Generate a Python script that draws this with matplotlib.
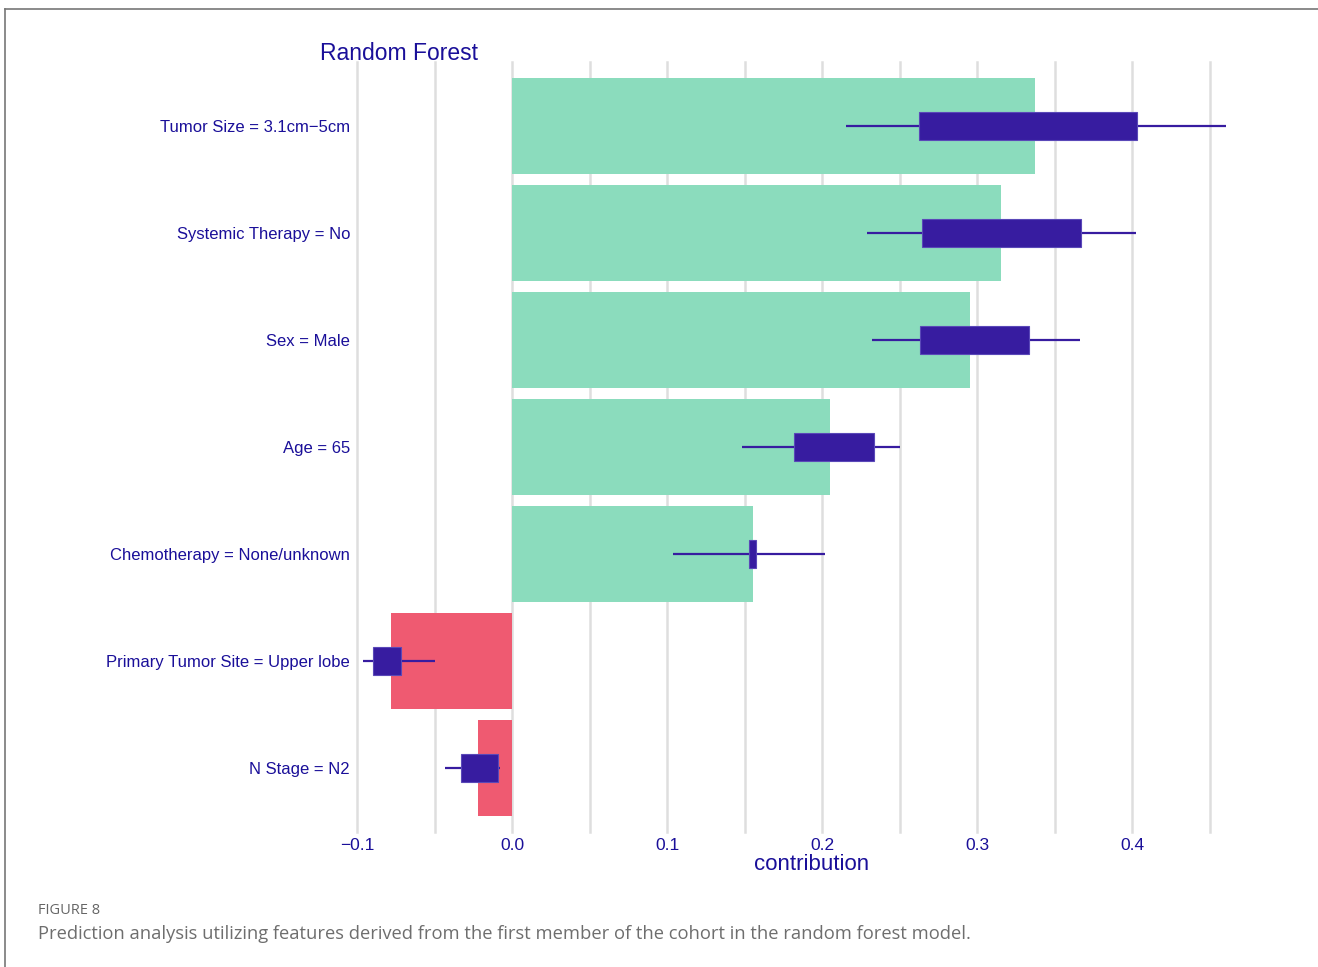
import numpy as np
import matplotlib.pyplot as plt
from matplotlib.lines import Line2D

# Data
features = ["Tumor Size = 3.1cm\u22125cm", "Systemic Therapy = No", "Sex = Male", "Age = 65",
            "Chemotherapy = None/unknown", "Primary Tumor Site = Upper lobe", "N Stage = N2"]
contribution = [0.337, 0.315, 0.295, 0.205, 0.1555, -0.078, -0.022]
whisker_lo = [0.2155, 0.229, 0.232, 0.148, 0.104, -0.096, -0.0432]
box_lo = [0.2626, 0.2645, 0.263, 0.182, 0.153, -0.0897, -0.0329]
box_hi = [0.4032, 0.367, 0.333, 0.2335, 0.157, -0.0716, -0.0090]
whisker_hi = [0.460, 0.402, 0.366, 0.250, 0.202, -0.0497, -0.0077]
xticks = [-0.1, 0.0, 0.1, 0.2, 0.3, 0.4]
gridpos = [-0.1, -0.05, 0.0, 0.05, 0.1, 0.15, 0.2, 0.25, 0.3, 0.35, 0.4, 0.45]

TXT = "#1a0f99"
GREEN = "#8bdcbd"
RED = "#ef5a71"
BOX = "#371ca0"

W, H = 1318, 967
fig = plt.figure(figsize=(W / 100, H / 100), dpi=100)
ax = fig.add_axes([357 / W, 1 - 832 / H, (1210 - 357) / W, (832 - 62) / H])

y = np.arange(len(features))
colors = [GREEN if c > 0 else RED for c in contribution]
ax.barh(y, contribution, height=0.9, color=colors, zorder=2)

ax.hlines(y, whisker_lo, whisker_hi, color=BOX, lw=1.6, zorder=3, clip_on=False)
ax.barh(y, np.array(box_hi) - np.array(box_lo), left=box_lo, height=0.26,
        color=BOX, edgecolor="#5a48b8", lw=0.8, zorder=4)

# vertical grid lines (drawn unclipped so the edge lines are full width)
for g in gridpos:
    ax.axvline(g, color="#dedede", lw=1.8, zorder=0, clip_on=False)

ax.set_xlim(-0.1, 0.45)
ax.set_ylim(len(features) - 0.4, -0.6)
ax.set_xticks(xticks)
ax.set_xticklabels([f"{t:.1f}".replace("-", "\u2212") for t in xticks])
ax.set_yticks(y)
ax.set_yticklabels(features)
ax.tick_params(axis="both", which="both", length=0, colors=TXT)
ax.tick_params(axis="y", pad=5, labelsize=12)
ax.tick_params(axis="x", pad=4, labelsize=12.5)
for lab in ax.get_xticklabels() + ax.get_yticklabels():
    lab.set_fontfamily("Liberation Sans")
for s in ax.spines.values():
    s.set_visible(False)

ax.set_xlabel("contribution", fontsize=16, color=TXT, fontfamily="Liberation Sans")
ax.xaxis.set_label_coords(0.533, -0.028)

fig.text(320 / W, 1 - 53 / H, "Random Forest", fontsize=16.5, color=TXT,
         fontfamily="Liberation Sans", va="center", ha="left")

# caption
fig.text(38 / W, 1 - 910 / H, "FIGURE 8", fontsize=10.5, color="#666666",
         fontfamily="Open Sans", va="center")
fig.text(38 / W, 1 - 934 / H,
         "Prediction analysis utilizing features derived from the first member of the cohort in the random forest model.",
         fontsize=13.2, color="#6e6e6e", fontfamily="Open Sans", va="center")

# frame lines
fig.add_artist(Line2D([5 / W, 1], [1 - 9 / H, 1 - 9 / H], color="#777777", lw=1.2, transform=fig.transFigure))
fig.add_artist(Line2D([5 / W, 5 / W], [0, 1 - 9 / H], color="#777777", lw=1.2, transform=fig.transFigure))

fig.savefig("out.png", dpi=100)
